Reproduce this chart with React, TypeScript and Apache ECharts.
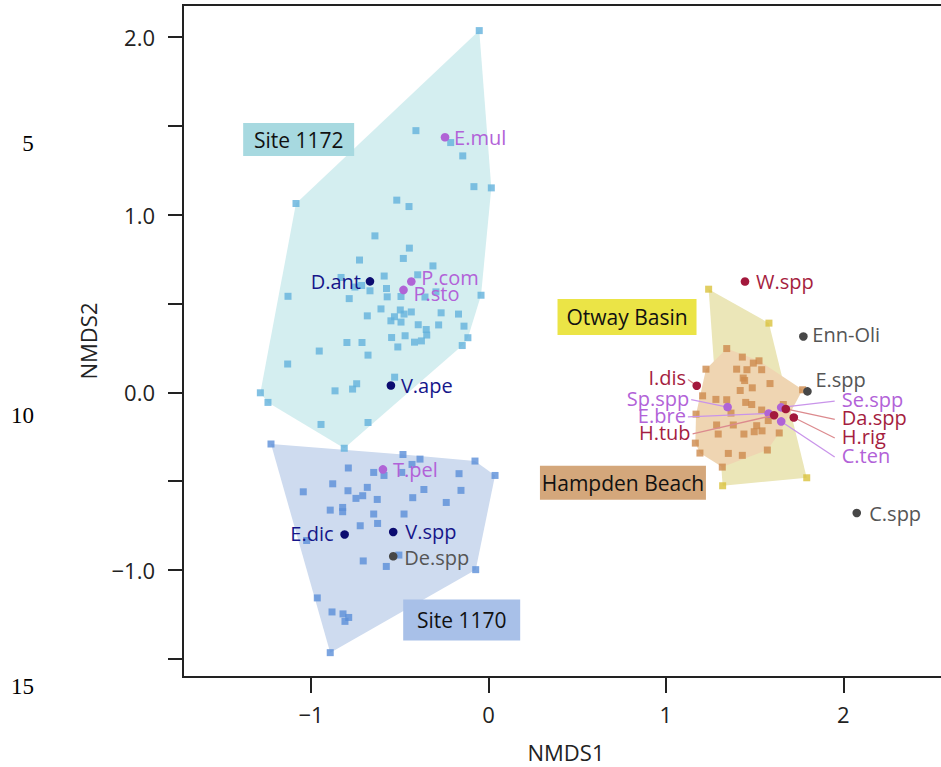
import React, { useEffect, useRef } from "react";
import * as echarts from "echarts";

// ---- Sample scores (NMDS1, NMDS2) ----
const site1172: [number, number][] = [
  [-0.052, 2.035], [-0.409, 1.472], [-0.213, 1.405], [-0.145, 1.33], [-0.082, 1.157],
  [0.016, 1.15], [-1.085, 1.062], [-0.517, 1.081], [-0.448, 1.045], [-0.64, 0.88],
  [-0.446, 0.811], [-0.48, 0.753], [-0.727, 0.744], [-0.313, 0.711], [-0.399, 0.661],
  [-0.588, 0.654], [-0.831, 0.646], [-0.753, 0.592], [-0.715, 0.601], [-0.668, 0.571],
  [-0.575, 0.584], [-0.571, 0.537], [-0.493, 0.539], [-0.358, 0.536], [-0.296, 0.565],
  [-0.042, 0.546], [-0.785, 0.527], [-1.13, 0.54], [-0.606, 0.469], [-0.497, 0.463],
  [-0.476, 0.44], [-0.435, 0.452], [-0.53, 0.425], [-0.55, 0.402], [-0.493, 0.395],
  [-0.683, 0.43], [-0.267, 0.447], [-0.169, 0.44], [-0.396, 0.38], [-0.281, 0.379],
  [-0.138, 0.372], [-0.351, 0.353], [-0.348, 0.322], [-0.116, 0.307], [-0.546, 0.308],
  [-0.47, 0.318], [-0.378, 0.289], [-0.417, 0.282], [-0.148, 0.263], [-0.798, 0.28],
  [-0.713, 0.28], [-0.511, 0.255], [-0.954, 0.232], [-0.679, 0.209], [-1.132, 0.159],
  [-0.529, 0.085], [-0.743, 0.048], [-0.766, 0.018], [-0.865, 0.008], [-1.286, -0.003],
  [-1.243, -0.057], [-0.944, -0.181], [-0.679, -0.17], [-0.813, -0.315],
];

const site1170: [number, number][] = [
  [-1.226, -0.291], [-0.482, -0.35], [-0.386, -0.376], [-0.076, -0.387], [0.037, -0.468],
  [-0.79, -0.426], [-0.647, -0.451], [-0.589, -0.468], [-0.489, -0.451], [-0.431, -0.406],
  [-0.166, -0.458], [-0.878, -0.515], [-1.044, -0.56], [-0.792, -0.554], [-0.683, -0.535],
  [-0.709, -0.582], [-0.747, -0.597], [-0.627, -0.603], [-0.364, -0.547], [-0.155, -0.552],
  [-0.427, -0.593], [-0.238, -0.62], [-0.892, -0.663], [-0.822, -0.648], [-0.822, -0.672],
  [-0.647, -0.685], [-0.476, -0.685], [-0.723, -0.751], [-0.625, -0.738], [-1.025, -0.834],
  [-0.505, -0.916], [-0.706, -0.949], [-0.576, -0.98], [-0.072, -0.998], [-0.965, -1.157],
  [-0.882, -1.236], [-0.82, -1.247], [-0.788, -1.267], [-0.809, -1.289], [-0.892, -1.465],
];

const otwayBasin: [number, number][] = [
  [1.241, 0.58], [1.581, 0.389], [1.794, -0.481], [1.32, -0.526],
];

const hampdenBeach: [number, number][] = [
  [1.343, 0.246], [1.431, 0.198], [1.493, 0.164], [1.525, 0.177], [1.226, 0.13],
  [1.399, 0.13], [1.457, 0.127], [1.54, 0.127], [1.436, 0.08], [1.444, 0.066],
  [1.587, 0.049], [1.487, 0.025], [1.419, 0.01], [1.207, -0.02], [1.282, -0.04],
  [1.343, -0.042], [1.45, -0.057], [1.484, -0.069], [1.662, -0.069], [1.367, -0.117],
  [1.54, -0.1], [1.17, -0.123], [1.286, -0.184], [1.38, -0.184], [1.512, -0.188],
  [1.577, -0.159], [1.295, -0.235], [1.44, -0.235], [1.498, -0.222], [1.542, -0.217],
  [1.639, -0.229], [1.166, -0.286], [1.192, -0.342], [1.352, -0.344], [1.431, -0.355],
  [1.572, -0.325], [1.318, -0.421], [1.771, 0.014],
];

// ---- Species scores ----
const speciesNames = [
  "E.mul", "D.ant", "P.com", "P.sto", "V.ape", "T.pel", "E.dic", "V.spp", "De.spp",
  "W.spp", "Enn-Oli", "E.spp", "I.dis", "Sp.spp", "E.bre", "H.tub", "Se.spp", "Da.spp",
  "H.rig", "C.ten", "C.spp",
];
const speciesX = [
  -0.245, -0.668, -0.435, -0.479, -0.55, -0.595, -0.811, -0.537, -0.537,
  1.446, 1.775, 1.798, 1.174, 1.348, 1.579, 1.61, 1.65, 1.676,
  1.721, 1.65, 2.076,
];
const speciesY = [
  1.435, 0.624, 0.623, 0.576, 0.038, -0.434, -0.8, -0.786, -0.923,
  0.623, 0.314, 0.005, 0.037, -0.083, -0.119, -0.129, -0.085, -0.094,
  -0.142, -0.164, -0.679,
];
const speciesGroup = [
  "purple", "navy", "purple", "purple", "navy", "purple", "navy", "navy", "gray",
  "red", "gray", "gray", "red", "purple", "purple", "red", "purple", "red",
  "red", "purple", "gray",
];

// ---- Group labels ----
const groupNames = ["Site 1172", "Site 1170", "Otway Basin", "Hampden Beach"];
const groupLabelAnchor: [number, number][] = [
  [-1.07, 1.422], [-0.151, -1.281], [0.781, 0.424], [0.758, -0.509],
];

// ---- Ticks ----
const xTicks = [-1, 0, 1, 2];
const yLabelTicks = [-1, 0, 1, 2];
const yTicks = [-1.5, -1, -0.5, 0, 0.5, 1, 1.5, 2];
const lineNumbers = ["5", "10", "15"];

// ---- Styling / layout (not data) ----
const FONT = '"Open Sans", "Noto Sans", sans-serif';
const X_MIN = -1.722, X_MAX = 2.596, Y_MIN = -1.602, Y_MAX = 2.179;
const dotColor: Record<string, string> = {
  purple: "#b064d6", navy: "#0c0c70", red: "#a3183c", gray: "#474747",
};
const textColor: Record<string, string> = {
  purple: "#b262d8", navy: "#16168a", red: "#a51d40", gray: "#555555",
};
const leaderColor: Record<string, string> = {
  purple: "#c994ea", red: "#dc8a8e",
};
type Lay = { dx: number; dy: number; align: "left" | "right"; leader?: boolean };
const labelLayout: Record<string, Lay> = {
  "E.mul": { dx: 9, dy: 0, align: "left" },
  "D.ant": { dx: -9, dy: 0, align: "right" },
  "P.com": { dx: 10, dy: -4, align: "left" },
  "P.sto": { dx: 10, dy: 4, align: "left" },
  "V.ape": { dx: 10, dy: 0, align: "left" },
  "T.pel": { dx: 10, dy: 0, align: "left" },
  "E.dic": { dx: -11, dy: -1, align: "right" },
  "V.spp": { dx: 12, dy: 0, align: "left" },
  "De.spp": { dx: 11, dy: 1, align: "left" },
  "W.spp": { dx: 11, dy: 0, align: "left" },
  "Enn-Oli": { dx: 9, dy: -1.5, align: "left" },
  "E.spp": { dx: 8, dy: -12, align: "left" },
  "C.spp": { dx: 12.5, dy: 0.5, align: "left" },
  "I.dis": { dx: -10.7, dy: -7.7, align: "right", leader: true },
  "Sp.spp": { dx: -38.4, dy: -9, align: "right", leader: true },
  "E.bre": { dx: -82.7, dy: 2, align: "right", leader: true },
  "H.tub": { dx: -83.5, dy: 17.2, align: "right", leader: true },
  "Se.spp": { dx: 60.5, dy: -7.7, align: "left", leader: true },
  "Da.spp": { dx: 56, dy: 9, align: "left", leader: true },
  "H.rig": { dx: 48, dy: 19, align: "left", leader: true },
  "C.ten": { dx: 60.5, dy: 34, align: "left", leader: true },
};
const groupLabelSize: [number, number][] = [[111, 33], [117, 41], [139, 36], [166, 34]];
const groupLabelFill = ["#a7d9e0", "#a8c0e8", "#ebe446", "#d4a77b"];

function convexHull(pts: [number, number][]): [number, number][] {
  const p = pts.slice().sort((a, b) => a[0] - b[0] || a[1] - b[1]);
  const cross = (o: number[], a: number[], b: number[]) =>
    (a[0] - o[0]) * (b[1] - o[1]) - (a[1] - o[1]) * (b[0] - o[0]);
  const lower: [number, number][] = [];
  for (const q of p) {
    while (lower.length >= 2 && cross(lower[lower.length - 2], lower[lower.length - 1], q) <= 0) lower.pop();
    lower.push(q);
  }
  const upper: [number, number][] = [];
  for (let i = p.length - 1; i >= 0; i--) {
    const q = p[i];
    while (upper.length >= 2 && cross(upper[upper.length - 2], upper[upper.length - 1], q) <= 0) upper.pop();
    upper.push(q);
  }
  upper.pop();
  lower.pop();
  return lower.concat(upper);
}

export default function App() {
  const ref = useRef<HTMLDivElement>(null);
  useEffect(() => {
    if (!ref.current) return;
    const chart = echarts.init(ref.current, undefined, { renderer: "svg" });

    const hullSets = [
      { pts: otwayBasin, fill: "#ebe6b8" },
      { pts: hampdenBeach, fill: "#efd5b2" },
      { pts: site1172, fill: "#d4eef0" },
      { pts: site1170, fill: "#cedbef" },
    ].map((h) => ({ hull: convexHull(h.pts), fill: h.fill }));

    const squareSeries = [
      { data: site1172, color: "#63b2dc" },
      { data: site1170, color: "#5b8ed8" },
      { data: otwayBasin, color: "#d9c23c" },
      { data: hampdenBeach, color: "#cd8a4c" },
    ].map((s) => ({
      type: "scatter" as const,
      data: s.data,
      symbol: "rect",
      symbolSize: 7,
      itemStyle: { color: s.color },
      z: 3,
      silent: true,
    }));

    const axisCommon = {
      type: "value" as const,
      axisLine: { show: true, onZero: false, lineStyle: { color: "#222", width: 2 } },
      splitLine: { show: false },
      nameTextStyle: { fontSize: 22, color: "#222", fontFamily: FONT },
    };

    chart.setOption({
      animation: false,
      backgroundColor: "#fff",
      grid: {
        left: 183, top: 5, width: 766, height: 672,
        outerBoundsMode: "none",
        containLabel: false,
        show: true, borderColor: "#222", borderWidth: 2, backgroundColor: "transparent",
      },
      xAxis: {
        ...axisCommon,
        min: X_MIN, max: X_MAX,
        name: "NMDS1", nameLocation: "middle", nameGap: 64,
        axisTick: { show: true, length: 16, lineStyle: { color: "#222", width: 2 }, customValues: xTicks },
        axisLabel: {
          customValues: xTicks,
          formatter: (v: number) => (v < 0 ? "\u2212" + Math.abs(v) : String(v)),
          fontSize: 22, color: "#222", fontFamily: FONT, margin: 26,
        },
      },
      yAxis: {
        ...axisCommon,
        min: Y_MIN, max: Y_MAX,
        name: "NMDS2", nameLocation: "middle", nameGap: 84,
        axisTick: { show: true, length: 15, lineStyle: { color: "#222", width: 2 }, customValues: yTicks },
        axisLabel: {
          customValues: yLabelTicks,
          formatter: (v: number) => (v < 0 ? "\u2212" + Math.abs(v).toFixed(1) : v.toFixed(1)),
          fontSize: 22, color: "#222", fontFamily: FONT, margin: 28,
        },
      },
      graphic: lineNumbers.map((t, i) => ({
        type: "text",
        x: [28, 22.5, 22.5][i],
        y: [143, 415, 686][i],
        style: {
          text: t, fill: "#000", font: '23px "Liberation Serif", "DejaVu Serif", serif',
          align: "center", verticalAlign: "middle",
        },
      })),
      series: [
        {
          type: "custom",
          coordinateSystem: "cartesian2d",
          data: hullSets.map((h) => h.hull[0]),
          z: 1,
          silent: true,
          renderItem: (params: any, api: any) => {
            const h = hullSets[params.dataIndex];
            return {
              type: "polygon",
              shape: { points: h.hull.map((p) => api.coord(p)) },
              style: { fill: h.fill },
            };
          },
        },
        ...squareSeries,
        {
          type: "custom",
          coordinateSystem: "cartesian2d",
          data: speciesNames.map((_, i) => [speciesX[i], speciesY[i]]),
          z: 5,
          silent: true,
          renderItem: (params: any, api: any) => {
            const i = params.dataIndex;
            const name = speciesNames[i];
            const g = speciesGroup[i];
            const lay = labelLayout[name];
            const [px, py] = api.coord([api.value(0), api.value(1)]);
            const tx = px + lay.dx;
            const ty = py + lay.dy;
            const children: any[] = [];
            if (lay.leader) {
              const sx = lay.align === "right" ? tx + 2 : tx - 7;
              children.push({
                type: "line",
                shape: { x1: sx, y1: ty + 1.5, x2: px, y2: py },
                style: { stroke: leaderColor[g], lineWidth: 1.3 },
              });
            }
            children.push({
              type: "circle",
              shape: { cx: px, cy: py, r: 4.3 },
              style: { fill: dotColor[g] },
            });
            children.push({
              type: "text",
              x: tx,
              y: ty,
              style: {
                text: name, fill: textColor[g], fontSize: 20, fontFamily: FONT,
                align: lay.align, verticalAlign: "middle",
              },
            });
            return { type: "group", children };
          },
        },
        {
          type: "custom",
          coordinateSystem: "cartesian2d",
          data: groupLabelAnchor,
          z: 6,
          silent: true,
          renderItem: (params: any, api: any) => {
            const i = params.dataIndex;
            const [cx, cy] = api.coord([api.value(0), api.value(1)]);
            const [w, h] = groupLabelSize[i];
            return {
              type: "group",
              children: [
                {
                  type: "rect",
                  shape: { x: cx - w / 2, y: cy - h / 2, width: w, height: h },
                  style: { fill: groupLabelFill[i] },
                },
                {
                  type: "text",
                  x: cx,
                  y: cy,
                  style: {
                    text: groupNames[i], fill: "#111", fontSize: 21, fontFamily: FONT,
                    align: "center", verticalAlign: "middle",
                  },
                },
              ],
            };
          },
        },
      ],
    });
    return () => chart.dispose();
  }, []);

  return (
    <div
      ref={ref}
      style={{ position: "fixed", left: 0, top: 0, width: 941, height: 767, background: "#fff" }}
    />
  );
}
